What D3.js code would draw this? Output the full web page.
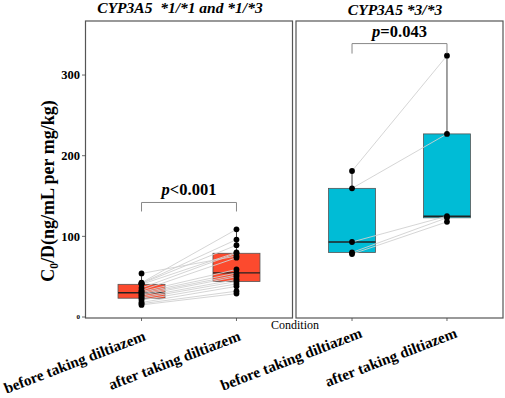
<!DOCTYPE html>
<html><head><meta charset="utf-8">
<script src="https://cdn.jsdelivr.net/npm/d3@7"></script>
<style>body{margin:0;background:#fff}svg{display:block}
svg text{font-family:"Liberation Serif","Times New Roman","DejaVu Serif",serif}</style>
</head><body>
<svg id="c" width="505" height="398"></svg>
<script>
// ---- data ----
const conditions = ["before taking diltiazem", "after taking diltiazem"];
const panelTitles = ["CYP3A5  *1/*1 and *1/*3", "CYP3A5 *3/*3"];
const pLabels = [["p", "<0.001"], ["p", "=0.043"]];
const bracketY = [142, 339];
const bracketDrop = [9, 10];
const yTicks = [0, 100, 200, 300];
// group 1 (*1/*1 and *1/*3): paired values before / after
const g1Before = [54, 42.5, 42, 41.5, 40.5, 36, 33, 31.5, 30, 28.5, 27, 25, 23.3, 21, 18, 16.5, 15];
const g1After  = [75.6, 108.7, 96, 89, 80, 79, 73.5, 59, 54.7, 52, 50, 46.5, 44, 41, 38, 32, 29];
// group 2 (*3/*3)
const g2Before = [181, 159.5, 93, 80, 78];
const g2After  = [324, 227, 125, 123, 118];
const fills = ["#FC4A2E", "#00BCD6"];

const groups = [
  {before: g1Before, after: g1After},
  {before: g2Before, after: g2After}
];

const svg = d3.select("#c");
const pTop = 21, pBottom = 318;
const panels = [
  {x0: 85.5, x1: 292.5, titleX: 180, titleY: 13, labDx: 5, labY: 340},
  {x0: 296, x1: 503, titleX: 395, titleY: 15, labDx: 11, labY: 337}
];
const y = d3.scaleLinear().domain([0, 367]).range([317, pTop]);

function stats(arr) {
  const s = arr.slice().sort(d3.ascending);
  const q1 = d3.quantile(s, 0.25), med = d3.quantile(s, 0.5), q3 = d3.quantile(s, 0.75);
  const iqr = q3 - q1;
  const lo = d3.min(s.filter(v => v >= q1 - 1.5 * iqr));
  const hi = d3.max(s.filter(v => v <= q3 + 1.5 * iqr));
  return {q1, med, q3, lo, hi};
}

panels.forEach((p, i) => {
  const g = svg.append("g");
  const x = d3.scalePoint().domain(conditions).range([p.x0, p.x1]).padding(0.59);
  const bw = 47;
  const grp = groups[i];
  g.append("rect").attr("x", p.x0).attr("y", pTop).attr("width", p.x1 - p.x0).attr("height", pBottom - pTop)
    .attr("fill", "none").attr("stroke", "#555").attr("stroke-width", 1.2);
  conditions.forEach((c, ci) => {
    const vals = ci === 0 ? grp.before : grp.after;
    const st = stats(vals);
    const cx = x(c);
    g.append("line").attr("x1", cx).attr("x2", cx).attr("y1", y(st.hi)).attr("y2", y(st.q3))
      .attr("stroke", "#444").attr("stroke-width", 1);
    g.append("line").attr("x1", cx).attr("x2", cx).attr("y1", y(st.q1)).attr("y2", y(st.lo))
      .attr("stroke", "#444").attr("stroke-width", 1);
    g.append("rect").attr("x", cx - bw / 2).attr("y", y(st.q3)).attr("width", bw)
      .attr("height", y(st.q1) - y(st.q3)).attr("fill", fills[i]).attr("stroke", "#555").attr("stroke-width", 0.8);
    g.append("line").attr("x1", cx - bw / 2).attr("x2", cx + bw / 2).attr("y1", y(st.med)).attr("y2", y(st.med))
      .attr("stroke", "#222").attr("stroke-width", 1.4);
  });
  grp.before.forEach((b, k) => {
    g.append("line").attr("x1", x(conditions[0])).attr("y1", y(b))
      .attr("x2", x(conditions[1])).attr("y2", y(grp.after[k]))
      .attr("stroke", "#d0d0d0").attr("stroke-width", 0.9);
  });
  conditions.forEach((c, ci) => {
    const vals = ci === 0 ? grp.before : grp.after;
    g.selectAll(null).data(vals).enter().append("circle")
      .attr("cx", x(c)).attr("cy", d => y(d)).attr("r", 2.9).attr("fill", "#000");
  });
  conditions.forEach(c => {
    g.append("line").attr("x1", x(c)).attr("x2", x(c)).attr("y1", pBottom).attr("y2", pBottom + 3)
      .attr("stroke", "#444").attr("stroke-width", 0.8);
  });
  const bx0 = x(conditions[0]), bx1 = x(conditions[1]);
  const by = y(bracketY[i]);
  g.append("path").attr("d", `M${bx0},${by + bracketDrop[i]}V${by}H${bx1}V${by + bracketDrop[i]}`)
    .attr("fill", "none").attr("stroke", "#888").attr("stroke-width", 1);
  const pt = g.append("text").attr("x", (bx0 + bx1) / 2).attr("y", by - 7)
    .attr("text-anchor", "middle").attr("font-weight", "bold").attr("font-size", 16.5);
  pt.append("tspan").attr("font-style", "italic").text(pLabels[i][0]);
  pt.append("tspan").text(pLabels[i][1]);
  g.append("text").attr("x", p.titleX).attr("y", p.titleY)
    .attr("text-anchor", "middle").attr("font-weight", "bold")
    .attr("font-style", "italic").attr("font-size", 15.5).style("white-space", "pre")
    .text(panelTitles[i]);
  conditions.forEach((c, ci) => {
    const ax = x(c) + p.labDx, ay = p.labY;
    g.append("text").attr("transform", `translate(${ax},${ay}) rotate(-21)`)
      .attr("text-anchor", "end").attr("font-weight", "bold")
      .attr("font-size", 15.2).text(c);
  });
});

const ya = svg.append("g");
yTicks.forEach(t => {
  ya.append("line").attr("x1", 82).attr("x2", 85.5).attr("y1", y(t)).attr("y2", y(t))
    .attr("stroke", "#444").attr("stroke-width", 0.8);
  ya.append("text").attr("x", 80).attr("y", y(t)).attr("dy", "0.35em").attr("text-anchor", "end")
    .attr("font-weight", "bold").attr("font-size", t === 0 ? 7 : 12.5).text(t);
});
const yt = svg.append("text").attr("transform", `translate(54,191) rotate(-90)`)
  .attr("text-anchor", "middle").attr("font-weight", "bold").attr("font-size", 18);
yt.append("tspan").text("C");
yt.append("tspan").attr("font-size", 11.5).attr("dy", 4).text("0");
yt.append("tspan").attr("dy", -4).text("/D(ng/mL per mg/kg)");

svg.append("text").attr("x", 295).attr("y", 329).attr("text-anchor", "middle")
  .attr("font-size", 12).text("Condition");
</script>
</body></html>
